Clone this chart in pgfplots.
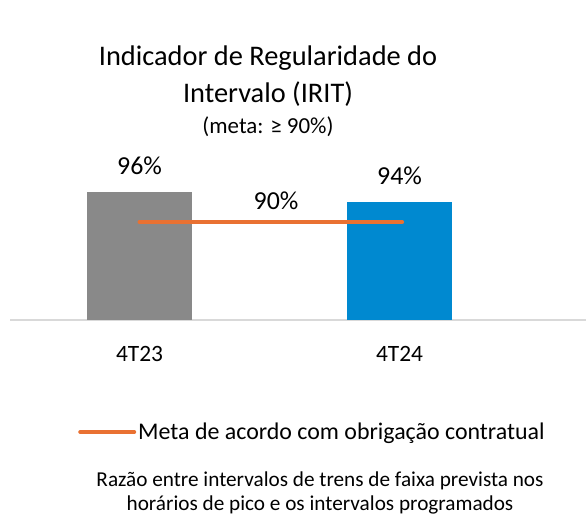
\documentclass[border=0pt]{standalone}
\usepackage{pgfplots}
\pgfplotsset{compat=1.18}
\usepackage{fontspec}
\setmainfont{Carlito}
\definecolor{bargray}{HTML}{898989}
\definecolor{barblue}{HTML}{0089D0}
\definecolor{metaorange}{HTML}{E97132}
\definecolor{axisgray}{HTML}{D9D9D9}

\begin{document}
\begin{tikzpicture}[x=1bp,y=1bp]
\path[use as bounding box] (0,0) rectangle (586,517);
\begin{axis}[
  at={(10bp,197bp)}, anchor=south west,
  scale only axis, width=576bp, height=148bp,
  xmin=-0.498, xmax=1.717, ymin=70.4, ymax=100,
  axis x line*=bottom, axis y line=none,
  x axis line style={axisgray, line width=1.5pt, -},
  xtick={0,1}, xticklabels={4T23,4T24}, major tick length=0pt,
  xticklabel style={font=\fontsize{23.5}{28}\selectfont, yshift=-23bp},
  /pgf/number format/assume math mode=true,
  clip=false,
  legend style={at={(axis description cs:0.525,-0.757)}, anchor=center, draw=none,
    font=\fontsize{24}{28}\selectfont, inner sep=0pt},
  legend image code/.code={\draw[#1, line cap=round] (0bp,0bp) -- (54bp,0bp);},
]
\addplot[ybar, bar width=105bp, fill=bargray, draw=none, bar shift=0pt,
  nodes near coords={\pgfmathprintnumber{\pgfplotspointmeta}\%},
  every node near coord/.style={font=\fontsize{26}{30}\selectfont, black, yshift=14bp},
  forget plot] coordinates {(0,96)};
\addplot[ybar, bar width=105bp, fill=barblue, draw=none, bar shift=0pt,
  nodes near coords={\pgfmathprintnumber{\pgfplotspointmeta}\%},
  every node near coord/.style={font=\fontsize{26}{30}\selectfont, black, yshift=14bp},
  forget plot] coordinates {(1,94)};
\addplot[metaorange, line width=4bp, line cap=round] coordinates {(0,90) (1.01,90)};
\addlegendentry{Meta de acordo com obrigação contratual}
\node[font=\fontsize{26}{30}\selectfont, above=9bp] at (axis cs:0.525,90) {90\%};
\end{axis}
\node[align=center, font=\fontsize{28.5}{37}\selectfont] at (268,441) {Indicador de Regularidade do\\Intervalo (IRIT)};
\node[font=\fontsize{23}{27}\selectfont] at (268,390) {(meta: ≥ 90\%)};
\node[align=center, font=\fontsize{21.3}{24}\selectfont] at (320,24) {Razão entre intervalos de trens de faixa prevista nos\\horários de pico e os intervalos programados};
\end{tikzpicture}
\end{document}
